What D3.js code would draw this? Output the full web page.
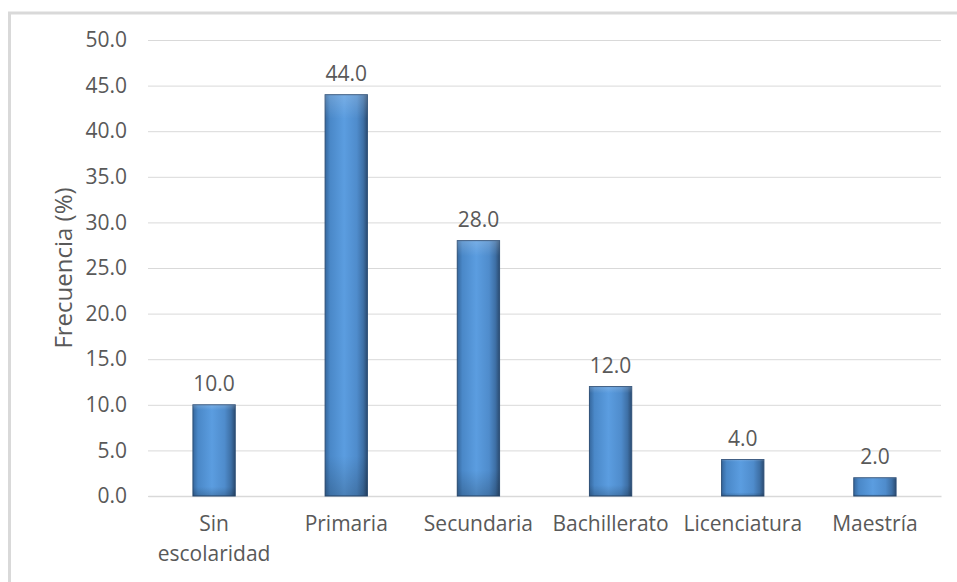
<!DOCTYPE html>
<html>
<head>
<meta charset="utf-8">
<script src="https://cdn.jsdelivr.net/npm/d3@7"></script>
<style>
  html, body { margin: 0; padding: 0; background: #fff; }
  svg { display: block; }
  text { font-family: "Open Sans", "Liberation Sans", sans-serif; fill: #595959; }
</style>
</head>
<body>
<svg id="chart" width="957" height="582"></svg>
<script>
const categories = ["Sin escolaridad", "Primaria", "Secundaria", "Bachillerato", "Licenciatura", "Maestría"];
const categoryLines = [["Sin", "escolaridad"], ["Primaria"], ["Secundaria"], ["Bachillerato"], ["Licenciatura"], ["Maestría"]];
const values = [10.0, 44.0, 28.0, 12.0, 4.0, 2.0];
const yTicks = [0, 5, 10, 15, 20, 25, 30, 35, 40, 45, 50];
const yTitle = "Frecuencia (%)";

const svg = d3.select("#chart");
const plot = { left: 148, right: 941, top: 40, bottom: 496 };
const FS = 21;

// frame (top and left visible; chart cropped)
svg.append("rect")
  .attr("x", 9.5).attr("y", 13)
  .attr("width", 980).attr("height", 620)
  .attr("fill", "none").attr("stroke", "#d9d9d9").attr("stroke-width", 3);

const x = d3.scaleBand().domain(categories).range([plot.left, plot.right])
  .paddingInner(0.68).paddingOuter(0.34);
const y = d3.scaleLinear().domain([0, 50]).range([plot.bottom, plot.top]);

// gradient for bars
const defs = svg.append("defs");
const g = defs.append("linearGradient").attr("id", "barGrad")
  .attr("x1", "0%").attr("x2", "100%").attr("y1", "0%").attr("y2", "0%");
[[0, "#35679d"], [0.12, "#4a88c8"], [0.45, "#5b9de0"], [0.75, "#4f8ccc"], [0.9, "#3e70a6"], [1, "#2b4c72"]]
  .forEach(([o, c]) => g.append("stop").attr("offset", o).attr("stop-color", c));
const gv = defs.append("linearGradient").attr("id", "barShade")
  .attr("x1", "0%").attr("x2", "0%").attr("y1", "0%").attr("y2", "100%");
[[0, "#ffffff", 0.18], [0.06, "#ffffff", 0.0], [0.9, "#000000", 0.0], [1, "#000000", 0.18]]
  .forEach(([o, c, op]) => gv.append("stop").attr("offset", o).attr("stop-color", c).attr("stop-opacity", op));

// gridlines + y labels
const yAxis = d3.axisLeft(y).tickValues(yTicks).tickSize(-(plot.right - plot.left))
  .tickFormat(d3.format(".1f")).tickPadding(21);
const ya = svg.append("g").attr("transform", `translate(${plot.left},0)`).call(yAxis);
ya.attr("font-size", FS).attr("font-family", null);
ya.select(".domain").remove();
ya.selectAll(".tick line").attr("stroke", "#d9d9d9").attr("stroke-width", 1);
ya.selectAll(".tick text").attr("font-size", FS).attr("fill", "#595959");

// x axis
const xAxis = d3.axisBottom(x).tickSize(0).tickFormat("");
const xa = svg.append("g").attr("transform", `translate(0,${plot.bottom})`).call(xAxis);
xa.attr("font-size", FS).attr("font-family", null);
xa.select(".domain").attr("stroke", "#d9d9d9").attr("stroke-width", 1.5);
xa.selectAll(".tick").each(function(d, i) {
  const t = d3.select(this).append("text")
    .attr("text-anchor", "middle").attr("font-size", FS).attr("fill", "#595959");
  categoryLines[i].forEach((line, j) => {
    t.append("tspan").attr("x", 0).attr("y", 35 + j * 30).text(line);
  });
});

// bars
const bars = svg.append("g");
categories.forEach((c, i) => {
  const bx = x(c), bw = x.bandwidth(), by = y(values[i]), bh = y(0) - y(values[i]);
  bars.append("rect").attr("x", bx).attr("y", by).attr("width", bw).attr("height", bh)
    .attr("fill", "url(#barGrad)").attr("stroke", "#2d4f77").attr("stroke-width", 1);
  bars.append("rect").attr("x", bx).attr("y", by).attr("width", bw).attr("height", bh)
    .attr("fill", "url(#barShade)");
});

// value labels
svg.append("g").selectAll("text").data(values).join("text")
  .attr("x", (d, i) => x(categories[i]) + x.bandwidth() / 2)
  .attr("y", d => y(d) - 14)
  .attr("text-anchor", "middle").attr("font-size", FS)
  .text(d => d3.format(".1f")(d));

// y title
svg.append("text")
  .attr("transform", `translate(72,${(plot.top + plot.bottom) / 2}) rotate(-90)`)
  .attr("text-anchor", "middle").attr("font-size", 24)
  .text(yTitle);
</script>
</body>
</html>
